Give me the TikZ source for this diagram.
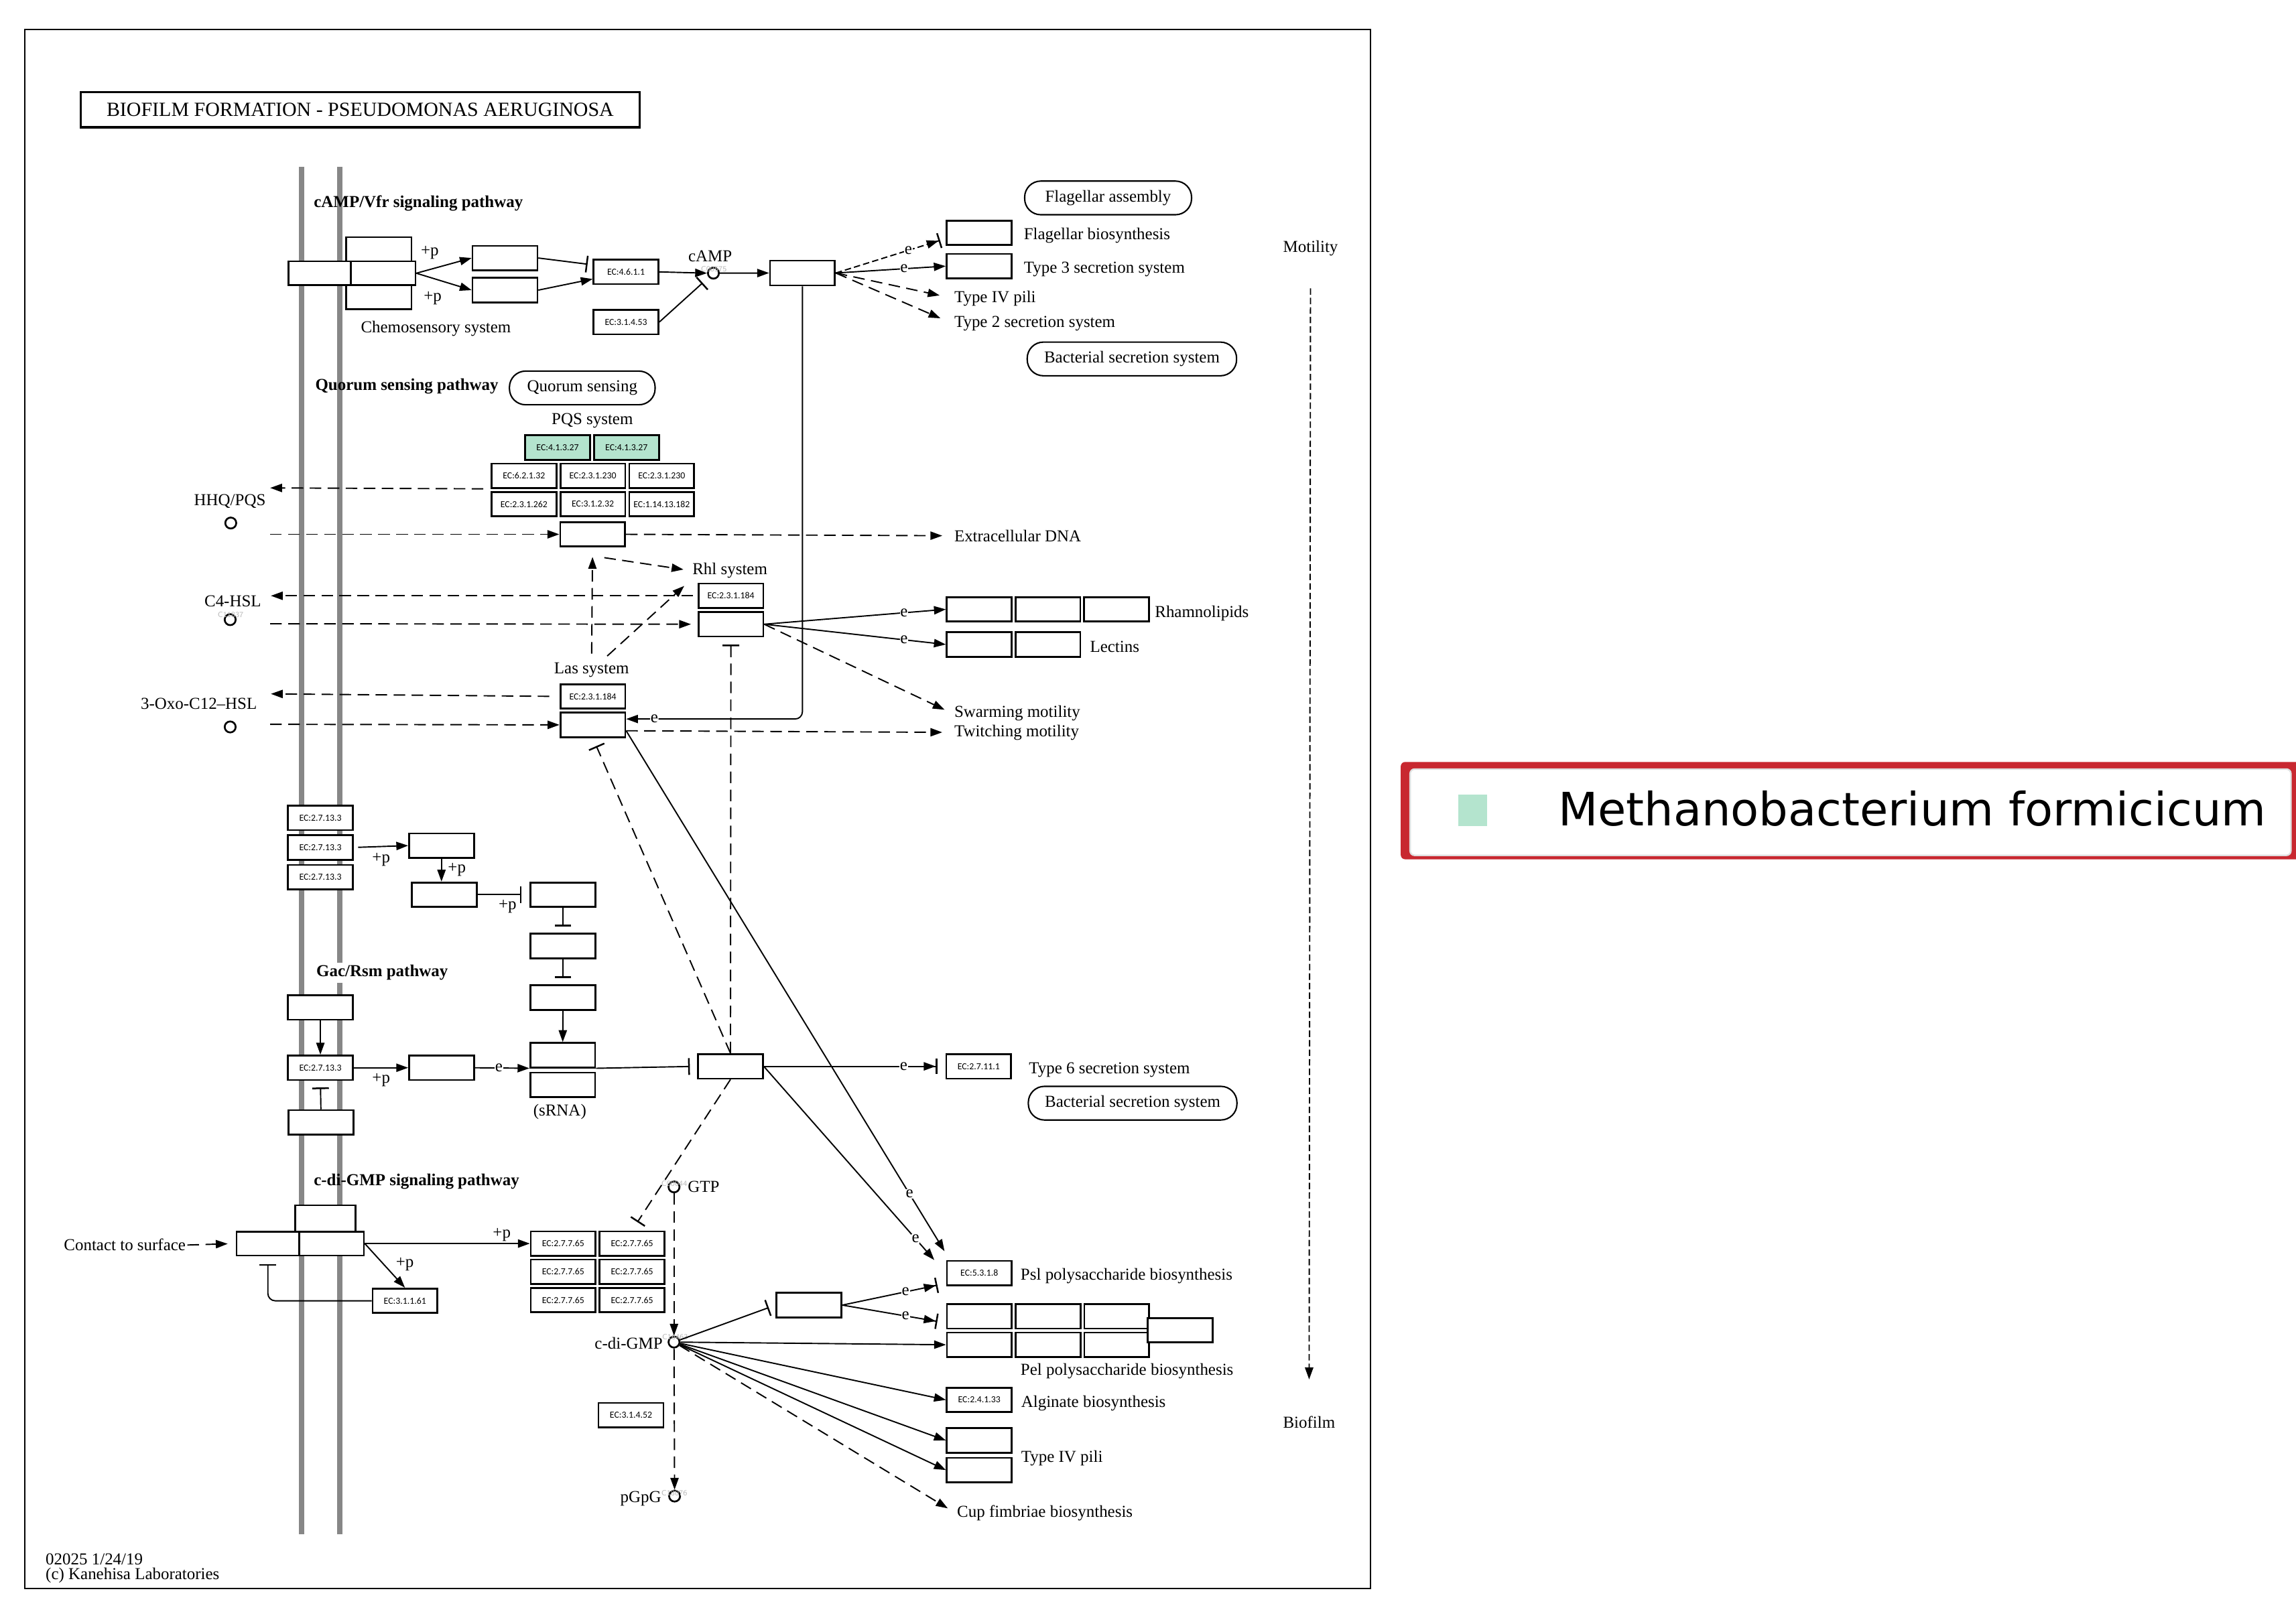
\documentclass[tikz,border=0pt]{standalone}
\usepackage{fontspec}
\setmainfont{Liberation Serif}
\newfontfamily\ecfont{Carlito}
\newfontfamily\legfont{DejaVu Sans}
\usetikzlibrary{positioning, arrows.meta}
\definecolor{pqsgreen}{RGB}{180,228,206}
\definecolor{legred}{RGB}{200,40,48}
\definecolor{membgray}{RGB}{135,135,135}
\newcommand{\lblsize}{\fontsize{6.5}{7.5}\selectfont}

\begin{document}
\begin{tikzpicture}[x=0.02cm, y=-0.02cm,
gene/.style={draw, fill=white, line width=0.7pt, minimum width=0.886cm, minimum height=0.334cm, inner sep=0pt, font=\ecfont\fontsize{3.6}{4}\selectfont},
hit/.style={gene, fill=pqsgreen},
mapbox/.style={draw, line width=0.55pt, rounded corners=0.22cm, minimum height=0.46cm, inner sep=0pt, font=\lblsize},
cpd/.style={circle, draw, fill=white, line width=0.7pt, minimum size=0.15cm, inner sep=0pt},
cid/.style={font=\sffamily\fontsize{3}{3}\selectfont, text=gray!55, inner sep=0pt},
lbl/.style={font=\lblsize, inner sep=0.5pt},
head/.style={font=\lblsize\bfseries, anchor=west, inner sep=0pt},
elbl/.style={font=\lblsize, fill=white, inner sep=0.2pt},
arrow/.style={-{Triangle[length=4.6pt, width=3.2pt]}, line width=0.5pt},
dasharrow/.style={arrow, dash pattern=on 4.5pt off 2.5pt},
finearrow/.style={arrow, dash pattern=on 2.5pt off 1.2pt},
inhibit/.style={-{Bar[width=6.5pt, line width=0.65pt]}, line width=0.5pt},
dashinhibit/.style={inhibit, dash pattern=on 4.5pt off 2.5pt},
exparrow/.style={-{Triangle[length=4.6pt, width=3.2pt] Bar[width=6pt, line width=0.65pt]}, line width=0.5pt},
membrane/.style={line width=2pt, membgray},
]
\useasboundingbox (0,0) rectangle (1568,1108);

% map frame and title
\draw[line width=0.6pt] (17,20) rectangle (936,1085);
\node[draw, line width=0.9pt, minimum width=7.64cm, minimum height=0.48cm, inner sep=0pt, font=\fontsize{7.8}{8}\selectfont] (title) at (246,75) {BIOFILM FORMATION - PSEUDOMONAS AERUGINOSA};

% membrane
\draw[membrane] (206,114) -- (206,1048);
\draw[membrane] (232,114) -- (232,1048);

% cAMP/Vfr signaling
\node[head] (hCamp) at (214,139) {cAMP/Vfr signaling pathway};
\node[gene, minimum width=0.89cm, minimum height=0.33cm] (chemoT) at (258.75,170.25) {};
\node[gene, minimum width=0.85cm, minimum height=0.326cm] (chemoL) at (218.25,186.65) {};
\node[gene, minimum width=0.884cm, minimum height=0.326cm] (chemoR) at (261.6,186.65) {};
\node[gene, minimum width=0.89cm, minimum height=0.33cm] (chemoB) at (258.75,203.05) {};
\node[lbl] (chemoLbl) at (297.7,224.3) {Chemosensory system};
\node[lbl] (pA) at (293.5,172.5) {+p};
\node[lbl] (pB) at (295.5,203.7) {+p};
\node[gene] (cyA) at (344.85,176.25) {};
\node[gene] (cyB) at (344.85,198.2) {};
\node[gene] (ac) at (427.5,185.75) {EC:4.6.1.1};
\node[gene] (pde53) at (427.5,220) {EC:3.1.4.53};
\node[cpd] (camp) at (487.2,186.6) {};
\node[lbl] (campLbl) at (485,175) {cAMP};
\node[cid] at (487.5,183.8) {C00575};
\node[gene, minimum height=0.34cm] (vfr) at (548,186.5) {};
\node[gene] (flagBio) at (668.6,159) {};
\node[gene] (t3ss) at (668.6,181.8) {};
\node[lbl, anchor=west] (flagBioLbl) at (698,161) {Flagellar biosynthesis};
\node[lbl, anchor=west] (t3ssLbl) at (698,183.8) {Type 3 secretion system};
\node[lbl, anchor=west] (t4pLblA) at (650.5,203.7) {Type IV pili};
\node[lbl, anchor=west] (t2ssLbl) at (650.5,221) {Type 2 secretion system};
\node[mapbox, minimum width=2.28cm] (flagAsm) at (756.75,135.2) {Flagellar assembly};
\node[mapbox, minimum width=2.86cm] (bssA) at (773,245.2) {Bacterial secretion system};

\draw[arrow] (chemoR.east) -- (cyA.west);
\draw[arrow] (chemoR.east) -- (cyB.west);
\draw[inhibit, shorten >=0.07cm] (cyA.east) -- (ac.168);
\draw[arrow] (cyB.east) -- (ac.192);
\draw[arrow] (ac.east) -- (camp.west);
\draw[inhibit, shorten >=0.11cm] (pde53.east) -- (camp);
\draw[arrow] (camp.east) -- (vfr.west);
\draw[exparrow, dash pattern=on 2.5pt off 1.2pt, shorten >=0.08cm] (vfr.east) -- node[pos=0.66, elbl]{e} (flagBio.190);
\draw[arrow] (vfr.east) -- node[pos=0.62, elbl]{e} (t3ss.west);
\draw[dasharrow, shorten >=0.18cm] (vfr.east) -- (t4pLblA.west);
\draw[dasharrow, shorten >=0.18cm] (vfr.east) -- (t2ssLbl.west);

% quorum sensing
\node[head] (hQs) at (215,264) {Quorum sensing pathway};
\node[mapbox, minimum width=1.99cm] (qsMap) at (397.65,265) {Quorum sensing};
\node[lbl] (pqsLbl) at (404.5,287.5) {PQS system};
\node[hit] (pqsA1) at (380.8,305.7) {EC:4.1.3.27};
\node[hit] (pqsA2) [right=0.03cm of pqsA1] {EC:4.1.3.27};
\node[gene] (pqsB1) at (357.85,325) {EC:6.2.1.32};
\node[gene] (pqsB2) [right=0.03cm of pqsB1] {EC:2.3.1.230};
\node[gene] (pqsB3) [right=0.03cm of pqsB2] {EC:2.3.1.230};
\node[gene] (pqsC1) [below=0.03cm of pqsB1] {EC:2.3.1.262};
\node[gene] (pqsC2) [below=0.03cm of pqsB2] {EC:3.1.2.32};
\node[gene] (pqsC3) [below=0.03cm of pqsB3] {EC:1.14.13.182};
\node[lbl] (hhqLbl) at (157,342.4) {HHQ/PQS};
\node[cpd] (hhq) at (157.6,357.3) {};
\node[gene] (dnaBox) at (404.7,365) {};
\node[lbl, anchor=west] (ednaLbl) at (650.5,366) {Extracellular DNA};
\coordinate (hhqIn) at (184.5,333.3);
\coordinate (hhqOut) at (184.5,365);
\draw[dasharrow, shorten <=0.1cm] (pqsB1.south west) -- (hhqIn);
\draw[dasharrow] (hhqOut) -- (dnaBox.west);
\draw[dasharrow, shorten >=0.14cm] (dnaBox.east) -- (ednaLbl.west);

\node[lbl, anchor=west] (rhlLbl) at (471.7,389.8) {Rhl system};
\node[gene] (rhlEC) at (499.15,407) {EC:2.3.1.184};
\node[gene] (rhlR) [below=0.03cm of rhlEC] {};
\node[lbl] (c4Lbl) at (159,410.6) {C4-HSL};
\node[cpd] (c4) at (157.2,423.3) {};
\node[cid] at (157.5,420) {C11837};
\coordinate (c4In) at (185,407);
\coordinate (c4Out) at (184.5,426.1);
\draw[dasharrow, shorten <=0.06cm] (rhlEC.west) -- (c4In);
\draw[dasharrow, shorten >=0.09cm] (c4Out) -- (rhlR.west);

\node[lbl] (lasLbl) at (404,457.7) {Las system};
\node[gene] (lasEC) at (404.85,475.75) {EC:2.3.1.184};
\node[gene] (lasR) [below=0.03cm of lasEC] {};
\node[lbl] (oxoLbl) at (135.8,480.5) {3-Oxo-C12–HSL};
\node[cpd] (oxo) at (157.2,496.6) {};
\coordinate (oxoIn) at (185,474);
\coordinate (oxoOut) at (184.5,494.8);
\draw[dasharrow, shorten <=0.14cm] (lasEC.west) -- (oxoIn);
\draw[dasharrow] (oxoOut) -- (lasR.west);

\draw[dasharrow, shorten <=0.1cm, shorten >=0.13cm] (lasLbl.north) -- (dnaBox.south);
\draw[dasharrow, shorten >=0.1cm] ([xshift=0.16cm, yshift=-0.14cm]dnaBox.south) -- (rhlLbl.west);
\draw[dasharrow, shorten <=0.1cm, shorten >=0.12cm] ([xshift=0.14cm]lasLbl.north) -- (rhlLbl.south west);
\draw[arrow, rounded corners=0.1cm] (vfr.south) |- node[pos=0.92, elbl]{e} (lasR.10);

\node[gene] (rhamA) at (668.7,416.25) {};
\node[gene] (rhamB) [right=0.028cm of rhamA] {};
\node[gene] (rhamC) [right=0.028cm of rhamB] {};
\node[lbl, anchor=west] (rhamLbl) at (787.5,418.8) {Rhamnolipids};
\node[gene] (lecA) at (668.7,440.25) {};
\node[gene] (lecB) [right=0.028cm of lecA] {};
\node[lbl, anchor=west] (lecLbl) at (743.2,441.7) {Lectins};
\node[lbl, anchor=west] (swarmLbl) at (650.5,487.4) {Swarming motility};
\node[lbl, anchor=west] (twitchLbl) at (650.5,500.3) {Twitching motility};
\draw[arrow] (rhlR.east) -- node[pos=0.77, elbl]{e} (rhamA.west);
\draw[arrow] (rhlR.east) -- node[pos=0.77, elbl]{e} (lecA.west);
\draw[dasharrow, shorten >=0.12cm] (rhlR.east) -- (swarmLbl.west);
\draw[dasharrow, shorten >=0.14cm] (lasR.-10) -- (twitchLbl.west);

% Gac/Rsm
\node[head, fill=white, inner sep=1pt] (hGac) at (214,664.4) {Gac/Rsm pathway};
\node[gene] (hk1) at (218.8,558.7) {EC:2.7.13.3};
\node[gene] (hk2) [below=0.046cm of hk1] {EC:2.7.13.3};
\node[gene] (hk3) [below=0.046cm of hk2] {EC:2.7.13.3};
\node[gene] (rrA) at (301.5,577.65) {};
\node[gene] (rrB) at (303.45,611.2) {};
\node[lbl] (pC) at (260.3,587.3) {+p};
\node[lbl] (pD) at (312,594) {+p};
\node[lbl] (pE) at (346.6,619.4) {+p};
\node[gene] (rsC) at (384.45,611.2) {};
\node[gene] (rsD) at (384.45,646.25) {};
\node[gene] (rsE) at (384.45,681.5) {};
\node[gene] (srnaA) at (384.3,720.8) {};
\node[gene] (srnaB) [below=0.046cm of srnaA] {};
\node[lbl] (srnaLbl) at (382.3,759.4) {(sRNA)};
\node[gene] (gacS) at (218.8,688.2) {};
\node[gene] (gacA) at (218.8,729.4) {EC:2.7.13.3};
\node[gene] (gacT) at (301.5,729.4) {};
\node[lbl] (pF) at (260.3,738) {+p};
\node[gene] (gacL) at (219.15,766.75) {};
\node[gene] (rsmA) at (498.85,728.45) {};
\node[gene] (t6ss) at (668.35,728.45) {EC:2.7.11.1};
\node[lbl, anchor=west] (t6ssLbl) at (701.5,730.8) {Type 6 secretion system};
\node[mapbox, minimum width=2.85cm] (bssB) at (773.5,753.6) {Bacterial secretion system};

\draw[arrow, shorten <=0.06cm] (hk2.east) -- (rrA.west);
\draw[arrow] (rrA.south) -- (rrA.south |- rrB.north);
\draw[inhibit, shorten >=0.11cm] (rrB.east) -- (rsC.west);
\draw[inhibit, shorten >=0.09cm] (rsC.south) -- (rsD.north);
\draw[inhibit, shorten >=0.09cm] (rsD.south) -- (rsE.north);
\draw[arrow] (rsE.south) -- (srnaA.north);
\draw[arrow] (gacS.south) -- (gacA.north);
\draw[arrow] (gacA.east) -- (gacT.west);
\draw[arrow] (gacT.east) -- node[pos=0.44, elbl]{e} (srnaA.south west);
\draw[inhibit, shorten >=0.09cm] (gacL.north) -- (gacA.south);
\draw[inhibit, shorten >=0.1cm] (srnaA.south east) -- (rsmA.west);
\draw[exparrow, shorten >=0.11cm] (rsmA.east) -- node[pos=0.77, elbl]{e} (t6ss.west);
\draw[dashinhibit, shorten >=0.1cm] (rsmA.north) -- (rhlR.south);
\draw[dashinhibit, shorten >=0.12cm] (rsmA.north) -- (lasR.south);

% c-di-GMP signaling
\node[head] (hCdg) at (214,807) {c-di-GMP signaling pathway};
\node[lbl, anchor=east] (contactLbl) at (128,850.5) {Contact to surface};
\node[gene, minimum width=0.82cm, minimum height=0.36cm] (cplxT) at (222.25,832.3) {};
\node[gene, minimum width=0.854cm, minimum height=0.328cm] (cplxL) at (182.95,849.5) {};
\node[gene, minimum width=0.884cm, minimum height=0.328cm] (cplxR) at (226.4,849.5) {};
\node[gene] (dgcA1) at (384.6,849.5) {EC:2.7.7.65};
\node[gene] (dgcB1) [right=0.03cm of dgcA1] {EC:2.7.7.65};
\node[gene] (dgcA2) [below=0.028cm of dgcA1] {EC:2.7.7.65};
\node[gene] (dgcB2) [below=0.028cm of dgcB1] {EC:2.7.7.65};
\node[gene] (dgcA3) [below=0.028cm of dgcA2] {EC:2.7.7.65};
\node[gene] (dgcB3) [below=0.028cm of dgcB2] {EC:2.7.7.65};
\node[gene] (pde61) at (276.55,888.6) {EC:3.1.1.61};
\node[lbl] (pG) at (276.5,863.5) {+p};
\node[cpd] (gtp) at (460.3,810.8) {};
\node[lbl, anchor=west] (gtpLbl) at (468.5,810.8) {GTP};
\node[cid] at (460.5,808.5) {C00044};
\node[cpd] (cdg) at (460.3,916.8) {};
\node[lbl, anchor=east] (cdgLbl) at (453.7,917.6) {c-di-GMP};
\node[cid] at (461,913.5) {C16463};
\node[cpd] (pgpg) at (460.7,1022) {};
\node[lbl, anchor=east] (pgpgLbl) at (452.8,1023.6) {pGpG};
\node[cid] at (460.5,1020) {C18076};
\node[gene] (pde52) at (430.9,966.7) {EC:3.1.4.52};
\node[gene] (cbox) at (552.45,891.55) {};
\node[gene] (pslEC) at (668.8,869.7) {EC:5.3.1.8};
\node[lbl, anchor=west] (pslLbl) at (695.8,871.8) {Psl polysaccharide biosynthesis};
\node[gene] (pelA1) at (668.8,899.2) {};
\node[gene] (pelA2) [right=0.028cm of pelA1] {};
\node[gene] (pelA3) [right=0.028cm of pelA2] {};
\node[gene] (pelB1) [below=0.03cm of pelA1] {};
\node[gene] (pelB2) [below=0.03cm of pelA2] {};
\node[gene] (pelB3) [below=0.03cm of pelA3] {};
\node[gene] (pelX) at (805.95,908.75) {};
\node[lbl, anchor=west] (pelLbl) at (695.8,936.7) {Pel polysaccharide biosynthesis};
\node[gene] (alg) at (668.75,956.3) {EC:2.4.1.33};
\node[lbl, anchor=west] (algLbl) at (696.2,958.8) {Alginate biosynthesis};
\node[gene] (pilA) at (668.75,984) {};
\node[gene] (pilB) [below=0.046cm of pilA] {};
\node[lbl, anchor=west] (t4pLblB) at (696.2,996.2) {Type IV pili};
\node[lbl, anchor=west] (cupLbl) at (652.4,1033.5) {Cup fimbriae biosynthesis};

\draw[dasharrow, shorten >=0.11cm] (contactLbl.east) -- (cplxL.west);
\draw[arrow] (cplxR.east) -- node[pos=0.83, above, lbl]{+p} (dgcA1.west);
\draw[arrow] (cplxR.east) -- (pde61.north);
\draw[inhibit, rounded corners=0.1cm, shorten >=0.106cm] (pde61.west) -| (cplxL.south);
\draw[dashinhibit, shorten >=0.135cm] (rsmA.south) -- (dgcB1.north);
\draw[arrow] (lasR.-10) -- node[pos=0.89, elbl]{e} ([xshift=-0.02cm, yshift=0.12cm]pslEC.north west);
\draw[arrow] (rsmA.east) -- node[pos=0.89, elbl]{e} ([xshift=-0.16cm]pslEC.north west);
\draw[dasharrow] (gtp) -- (cdg);
\draw[inhibit, shorten >=0.1cm] (cdg) -- (cbox.west);
\draw[exparrow, shorten >=0.12cm] (cbox.east) -- node[pos=0.61, elbl]{e} ([yshift=-0.14cm]pslEC.west);
\draw[exparrow, shorten >=0.12cm] (cbox.east) -- node[pos=0.61, elbl]{e} ([yshift=-0.09cm]pelA1.west);
\draw[arrow] (cdg) -- (pelB1.west);
\draw[arrow] (cdg) -- (alg.west);
\draw[arrow] (cdg) -- (pilA.west);
\draw[arrow] (cdg) -- (pilB.west);
\draw[dasharrow, shorten >=0.12cm] (cdg) -- (cupLbl.west);
\draw[dasharrow] (cdg) -- (pgpg);

% motility to biofilm
\node[lbl] (motLbl) at (895,169.5) {Motility};
\node[lbl] (bioLbl) at (894,971.6) {Biofilm};
\draw[finearrow, shorten <=0.42cm, shorten >=0.48cm] (motLbl.south) -- (bioLbl.north);

% footer
\node[lbl, anchor=west] (verLbl) at (30,1065) {02025 1/24/19};
\node[lbl, anchor=west] (copyLbl) at (30,1076) {(c) Kanehisa Laboratories};

% legend
\fill[legred, rounded corners=0.06cm] (956.6,520.5) rectangle (1572,587);
\draw[fill=white, draw=gray!25, line width=0.6pt, rounded corners=0.06cm] (963,525.4) rectangle (1564.5,584.3);
\fill[pqsgreen] (996,543) rectangle (1015.6,564.5);
\node[anchor=west, inner sep=0pt, font=\legfont\fontsize{17.9}{20}\selectfont] (legTxt) at (1063.8,552.2) {Methanobacterium formicicum};

\end{tikzpicture}
\end{document}
